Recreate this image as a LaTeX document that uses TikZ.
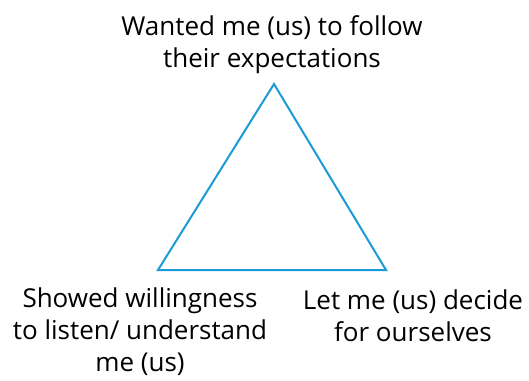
\documentclass[tikz,border=0pt]{standalone}
\usepackage{fontspec}
\setmainfont{Open Sans}
\definecolor{triblue}{RGB}{26,155,215}
\begin{document}
\begin{tikzpicture}
      [x=1pt,y=1pt,line join=miter,
      label text/.style={align=center,inner sep=0pt,font=\fontsize{26}{32}\selectfont}]
      \useasboundingbox (0,0) rectangle (529,380);
      \coordinate (top) at (274,296);
      \coordinate (left) at (158,110);
      \coordinate (right) at (386,110);
      \draw[triblue,line width=2pt] (top) -- (left) -- (right) -- cycle;
      \node[label text] (expect) at (272,335) {Wanted me (us) to follow\\their expectations};
      \node[label text] (listen) at (140,48) {Showed willingness\\to listen/ understand\\me (us)};
      \node[label text] (decide) at (413,64) {Let me (us) decide\\for ourselves};
    \end{tikzpicture}
\end{document}
